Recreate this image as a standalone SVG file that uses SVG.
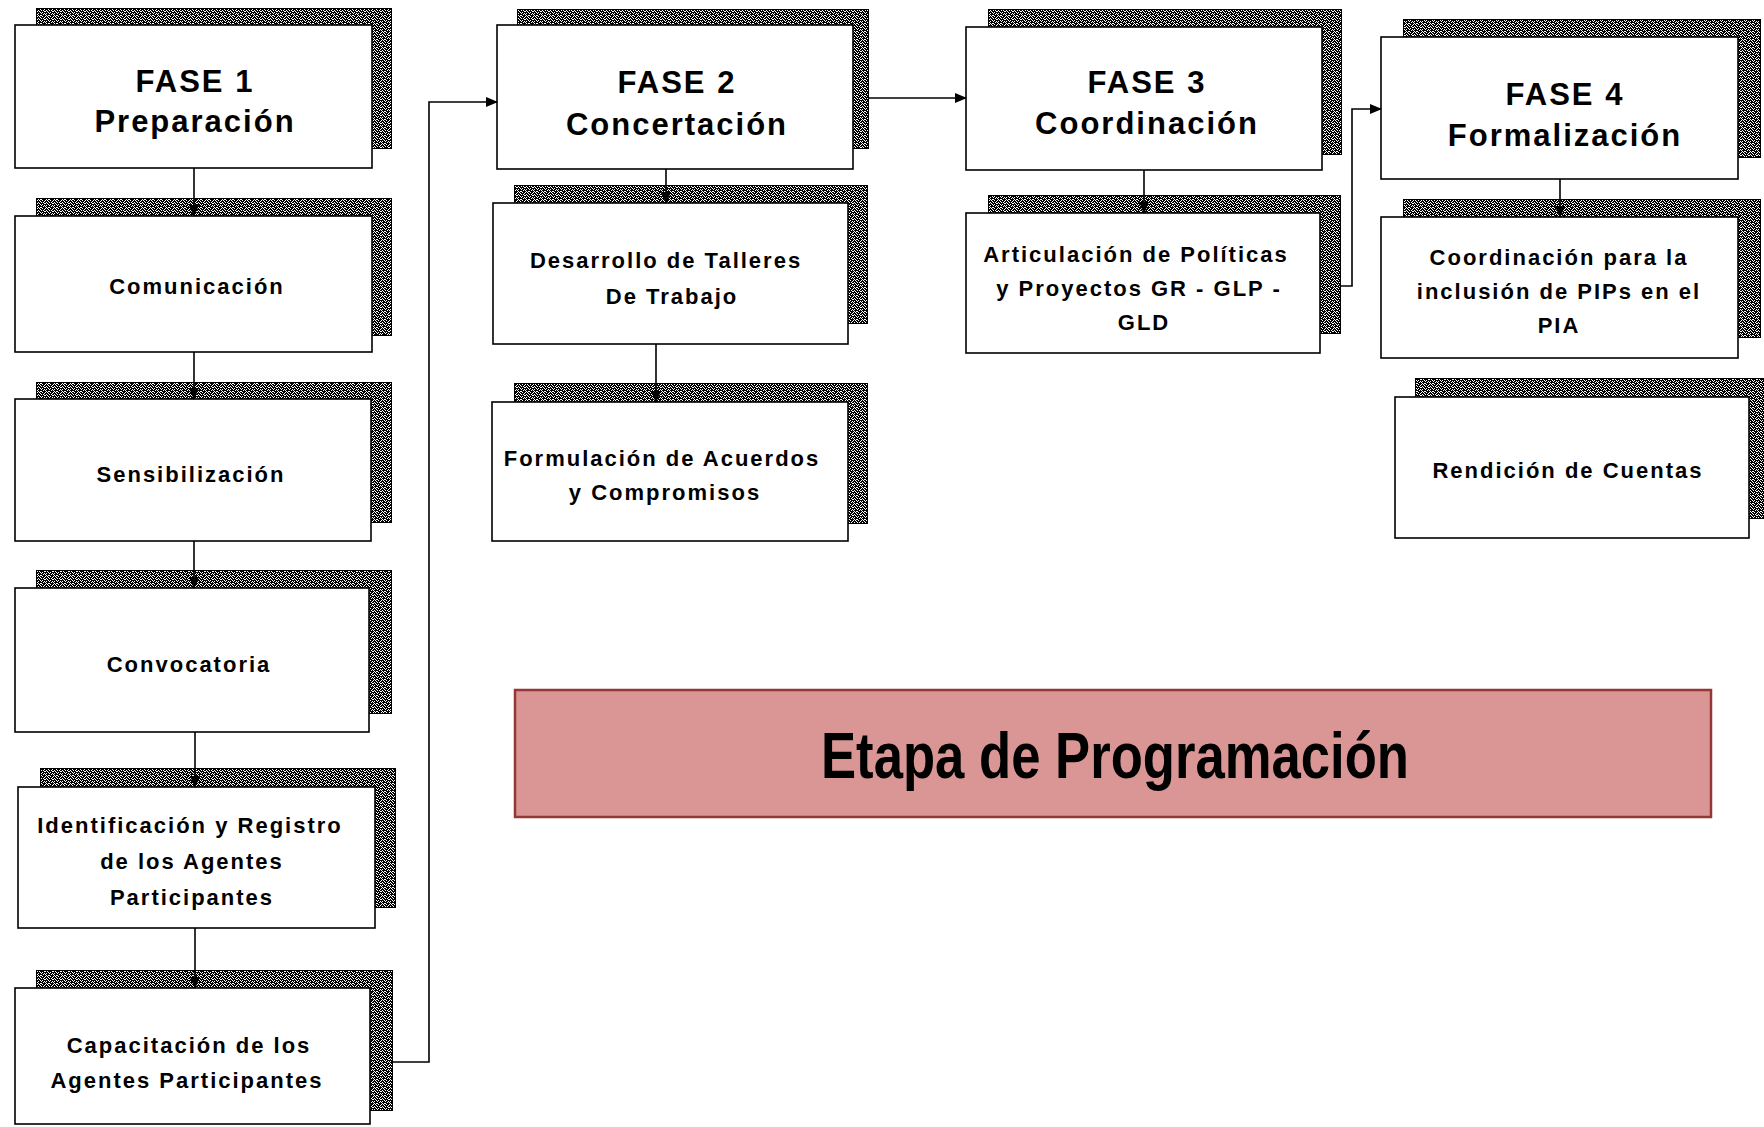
<svg xmlns="http://www.w3.org/2000/svg" width="1764" height="1127" viewBox="0 0 1764 1127">
<defs>
<pattern id="dither" width="8" height="8" patternUnits="userSpaceOnUse">
<rect width="8" height="8" fill="#ffffff"/>
<path fill="#000" d="M0 0h2v1h-2zM3 0h2v1h-2zM6 0h1v1h-1zM1 1h3v1h-3zM5 1h3v1h-3zM0 2h1v1h-1zM2 2h1v1h-1zM4 2h2v1h-2zM7 2h1v1h-1zM0 3h4v1h-4zM6 3h1v1h-1zM1 4h1v1h-1zM3 4h5v1h-5zM0 5h1v1h-1zM2 5h2v1h-2zM5 5h1v1h-1zM7 5h1v1h-1zM0 6h3v1h-3zM4 6h1v1h-1zM6 6h2v1h-2zM2 7h4v1h-4zM7 7h1v1h-1z"/>
</pattern>
<marker id="arr" markerWidth="12" markerHeight="10" refX="11" refY="5" orient="auto" markerUnits="userSpaceOnUse">
<path d="M0,0 L12,5 L0,10 z" fill="#000"/>
</marker>
<style>
.sh{fill:url(#dither);stroke:#000;stroke-width:1;shape-rendering:crispEdges}
.bx{fill:#fff;stroke:#000;stroke-width:1.6}
.t{font-family:"Liberation Sans",Arial,sans-serif;font-weight:bold;fill:#000;text-anchor:middle}
.ti{font-size:31px;letter-spacing:2px}
.tx{font-size:22px;letter-spacing:2px}
.cn{fill:none;stroke:#000;stroke-width:1.6}
</style>
</defs>
<rect width="1764" height="1127" fill="#fff"/>

<g id="fase1">
<rect class="sh" x="36" y="8" width="355" height="140"/>
<rect class="bx" x="15" y="25" width="357" height="143"/>
<text class="t ti" x="195" y="92">FASE 1</text>
<text class="t ti" x="195" y="132">Preparación</text>
</g>
<g id="comunicacion">
<rect class="sh" x="36" y="198" width="355" height="137"/>
<rect class="bx" x="15" y="216" width="357" height="136"/>
<text class="t tx" x="197" y="294">Comunicación</text>
</g>
<g id="sensibilizacion">
<rect class="sh" x="36" y="382" width="355" height="140"/>
<rect class="bx" x="15" y="399" width="356" height="142"/>
<text class="t tx" x="191" y="482">Sensibilización</text>
</g>
<g id="convocatoria">
<rect class="sh" x="36" y="570" width="355" height="143"/>
<rect class="bx" x="15" y="588" width="354" height="144"/>
<text class="t tx" x="189" y="672">Convocatoria</text>
</g>
<g id="identificacion">
<rect class="sh" x="40" y="768" width="355" height="139"/>
<rect class="bx" x="18" y="787" width="357" height="141"/>
<text class="t tx" x="190" y="833">Identificación y Registro</text>
<text class="t tx" x="192" y="869">de los Agentes</text>
<text class="t tx" x="192" y="905">Participantes</text>
</g>
<g id="capacitacion">
<rect class="sh" x="36" y="970" width="356" height="140"/>
<rect class="bx" x="15" y="988" width="355" height="136"/>
<text class="t tx" x="189" y="1053">Capacitación de los</text>
<text class="t tx" x="187" y="1088">Agentes Participantes</text>
</g>

<g id="fase2">
<rect class="sh" x="517" y="9" width="351" height="139"/>
<rect class="bx" x="497" y="25" width="356" height="144"/>
<text class="t ti" x="677" y="93">FASE 2</text>
<text class="t ti" x="677" y="135">Concertación</text>
</g>
<g id="desarrollo">
<rect class="sh" x="514" y="185" width="353" height="138"/>
<rect class="bx" x="493" y="203" width="355" height="141"/>
<text class="t tx" x="666" y="268">Desarrollo de Talleres</text>
<text class="t tx" x="672" y="304">De Trabajo</text>
</g>
<g id="formulacion">
<rect class="sh" x="514" y="383" width="353" height="140"/>
<rect class="bx" x="492" y="402" width="356" height="139"/>
<text class="t tx" x="662" y="466">Formulación de Acuerdos</text>
<text class="t tx" x="665" y="500">y Compromisos</text>
</g>

<g id="fase3">
<rect class="sh" x="988" y="9" width="353" height="145"/>
<rect class="bx" x="966" y="27" width="356" height="143"/>
<text class="t ti" x="1147" y="93">FASE 3</text>
<text class="t ti" x="1147" y="134">Coordinación</text>
</g>
<g id="articulacion">
<rect class="sh" x="988" y="195" width="352" height="138"/>
<rect class="bx" x="966" y="213" width="354" height="140"/>
<text class="t tx" x="1136" y="262">Articulación de Políticas</text>
<text class="t tx" x="1139" y="296">y Proyectos GR - GLP -</text>
<text class="t tx" x="1144" y="330">GLD</text>
</g>

<g id="fase4">
<rect class="sh" x="1403" y="19" width="357" height="138"/>
<rect class="bx" x="1381" y="37" width="357" height="142"/>
<text class="t ti" x="1565" y="105">FASE 4</text>
<text class="t ti" x="1565" y="146">Formalización</text>
</g>
<g id="coordinacion">
<rect class="sh" x="1403" y="199" width="357" height="138"/>
<rect class="bx" x="1381" y="217" width="357" height="141"/>
<text class="t tx" x="1559" y="265">Coordinación para la</text>
<text class="t tx" x="1559" y="299">inclusión de PIPs en el</text>
<text class="t tx" x="1559" y="333">PIA</text>
</g>
<g id="rendicion">
<rect class="sh" x="1415" y="378" width="349" height="140"/>
<rect class="bx" x="1395" y="397" width="354" height="141"/>
<text class="t tx" x="1568" y="478">Rendición de Cuentas</text>
</g>

<g id="etapa">
<rect x="515" y="690" width="1196" height="127" fill="#d99694" stroke="#953735" stroke-width="2.5"/>
<text x="821" y="778" font-family="Liberation Sans,Arial,sans-serif" font-weight="bold" font-size="64" textLength="588" lengthAdjust="spacingAndGlyphs" fill="#000">Etapa de Programación</text>
</g>

<g id="connectors">
<path class="cn" d="M194 168 V216" marker-end="url(#arr)"/>
<path class="cn" d="M194 352 V399" marker-end="url(#arr)"/>
<path class="cn" d="M194 541 V588" marker-end="url(#arr)"/>
<path class="cn" d="M195 732 V787" marker-end="url(#arr)"/>
<path class="cn" d="M195 928 V988" marker-end="url(#arr)"/>
<path class="cn" d="M392 1062 H429 V102 H497" marker-end="url(#arr)"/>
<path class="cn" d="M868 98 H966" marker-end="url(#arr)"/>
<path class="cn" d="M666 169 V203" marker-end="url(#arr)"/>
<path class="cn" d="M656 344 V402" marker-end="url(#arr)"/>
<path class="cn" d="M1144 170 V213" marker-end="url(#arr)"/>
<path class="cn" d="M1340 286 H1352 V109 H1381" marker-end="url(#arr)"/>
<path class="cn" d="M1560 179 V217" marker-end="url(#arr)"/>
</g>
</svg>
